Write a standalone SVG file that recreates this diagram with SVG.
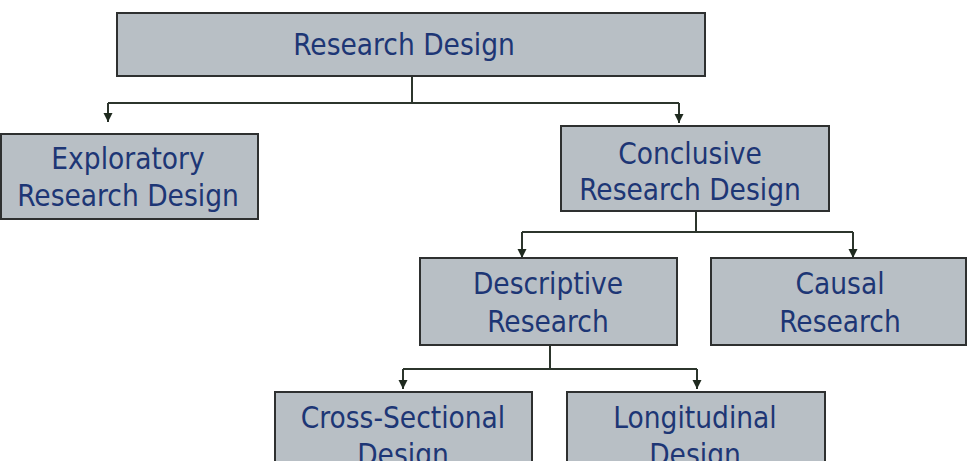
<svg xmlns="http://www.w3.org/2000/svg" width="971" height="461" viewBox="0 0 971 461">
  <style>
    .box { fill: #b8bfc5; stroke: #2e3030; stroke-width: 2; }
    .lbl { font-family: "DejaVu Sans Condensed", "DejaVu Sans", Verdana, sans-serif; font-size: 29.5px; fill: #1d3675; text-anchor: middle; }
    .wire { fill: none; stroke: #2c352c; stroke-width: 2; }
  </style>
  <defs>
    <marker id="arrow" markerWidth="10" markerHeight="10" refX="9" refY="5" orient="auto" markerUnits="userSpaceOnUse">
      <path d="M0,0.5 L9,5 L0,9.5 Z" fill="#1f2a1f"/>
    </marker>
  </defs>
  <rect width="971" height="461" fill="#ffffff"/>

  <g id="connectors">
    <path class="wire" d="M412,76 V103 M108,103 H679" />
    <path class="wire" d="M108,103 V122" marker-end="url(#arrow)"/>
    <path class="wire" d="M679,103 V123" marker-end="url(#arrow)"/>
    <path class="wire" d="M696,211 V232 M522,232 H853" />
    <path class="wire" d="M522,232 V258" marker-end="url(#arrow)"/>
    <path class="wire" d="M853,232 V258" marker-end="url(#arrow)"/>
    <path class="wire" d="M550,345 V369 M403,369 H697" />
    <path class="wire" d="M403,369 V389" marker-end="url(#arrow)"/>
    <path class="wire" d="M697,369 V389" marker-end="url(#arrow)"/>
  </g>

  <g id="research-design">
    <rect class="box" x="117" y="13" width="588" height="63"/>
    <text class="lbl" x="404" y="55">Research Design</text>
  </g>

  <g id="exploratory">
    <rect class="box" x="1" y="134" width="257" height="85"/>
    <text class="lbl" x="128" y="169">Exploratory</text>
    <text class="lbl" x="128" y="206">Research Design</text>
  </g>

  <g id="conclusive">
    <rect class="box" x="561" y="126" width="268" height="85"/>
    <text class="lbl" x="690" y="164">Conclusive</text>
    <text class="lbl" x="690" y="200">Research Design</text>
  </g>

  <g id="descriptive">
    <rect class="box" x="420" y="258" width="257" height="87"/>
    <text class="lbl" x="548" y="294">Descriptive</text>
    <text class="lbl" x="548" y="332">Research</text>
  </g>

  <g id="causal">
    <rect class="box" x="711" y="258" width="255" height="87"/>
    <text class="lbl" x="840" y="294">Causal</text>
    <text class="lbl" x="840" y="332">Research</text>
  </g>

  <g id="cross-sectional">
    <rect class="box" x="275" y="392" width="257" height="90"/>
    <text class="lbl" x="403" y="428">Cross-Sectional</text>
    <text class="lbl" x="403" y="465">Design</text>
  </g>

  <g id="longitudinal">
    <rect class="box" x="567" y="392" width="258" height="90"/>
    <text class="lbl" x="695" y="428">Longitudinal</text>
    <text class="lbl" x="695" y="465">Design</text>
  </g>
</svg>
